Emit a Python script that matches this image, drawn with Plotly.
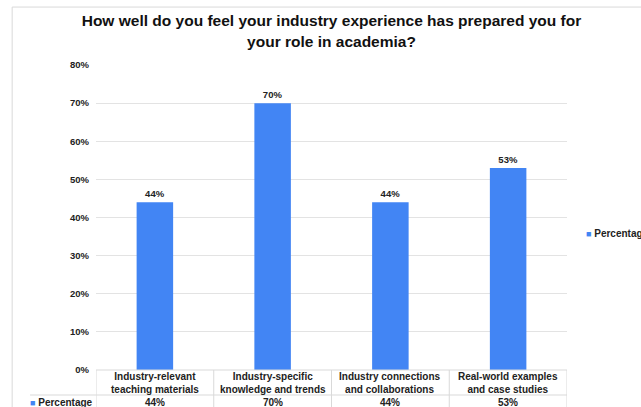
import plotly.graph_objects as go

categories = ["Industry-relevant<br>teaching materials",
              "Industry-specific<br>knowledge and trends",
              "Industry connections<br>and collaborations",
              "Real-world examples<br>and case studies"]
values = [0.44, 0.70, 0.44, 0.53]
value_labels = ["44%", "70%", "44%", "53%"]
series_name = "Percentage"
title_text = "How well do you feel your industry experience has prepared you for<br>your role in academia?"

BLUE = "#4285F4"
FONT = "Liberation Sans, Arial, sans-serif"
GRID = "#e3e3e3"
LINE = "#d9d9d9"

idx = list(range(len(categories)))

fig = go.Figure()
fig.add_trace(go.Bar(
    x=idx, y=values, name=series_name,
    marker=dict(color=BLUE, line=dict(width=0)),
    width=0.31,
    text=value_labels, textposition="outside",
    textfont=dict(family=FONT, size=9.5, color="#222222", weight="bold"),
    cliponaxis=False,
    showlegend=False,
))

shapes = []
# outer frame
shapes.append(dict(type="rect", xref="paper", yref="paper",
                   x0=-0.178, x1=2.0, y0=-1.0, y1=1.19,
                   line=dict(color=LINE, width=1), layer="below"))
# table horizontal lines
shapes.append(dict(type="line", xref="x", yref="paper",
                   x0=-0.5, x1=len(categories) - 0.5, y0=0, y1=0,
                   line=dict(color=LINE, width=1)))
shapes.append(dict(type="line", xref="paper", yref="paper",
                   x0=-0.14, x1=1.0, y0=-0.082, y1=-0.082,
                   line=dict(color=LINE, width=1)))
# table vertical lines
for i in range(len(categories) + 1):
    shapes.append(dict(type="line", xref="x", yref="paper",
                       x0=i - 0.5, x1=i - 0.5, y0=0, y1=-0.3,
                       line=dict(color=LINE, width=1)))

annotations = []
for i, (c, v) in enumerate(zip(categories, value_labels)):
    annotations.append(dict(x=i, y=-0.041, xref="x", yref="paper", text="<b>" + c + "</b>",
                            showarrow=False, xanchor="center", yanchor="middle",
                            font=dict(family=FONT, size=10, color="#222222")))
    annotations.append(dict(x=i, y=-0.105, xref="x", yref="paper", text="<b>" + v + "</b>",
                            showarrow=False, xanchor="center", yanchor="middle",
                            font=dict(family=FONT, size=10, color="#222222")))

legend_txt = ("<span style='font-size:9px;color:%s'>■</span> <b>%s</b>" % (BLUE, series_name))
annotations.append(dict(x=-0.002, y=-0.105, xref="paper", yref="paper", text=legend_txt,
                        showarrow=False, xanchor="right", yanchor="middle",
                        font=dict(family=FONT, size=10, color="#222222")))
annotations.append(dict(x=1.036, y=0.449, xref="paper", yref="paper", text=legend_txt,
                        showarrow=False, xanchor="left", yanchor="middle",
                        font=dict(family=FONT, size=10, color="#222222")))

fig.update_layout(
    width=641, height=407,
    margin=dict(l=96, r=74, t=65, b=37),
    paper_bgcolor="white", plot_bgcolor="white",
    title=dict(text="<b>" + title_text + "</b>", x=0.5, xref="paper", xanchor="center",
               y=0.935, yref="container", yanchor="middle",
               font=dict(family=FONT, size=15.5, color="#111111")),
    xaxis=dict(range=[-0.5, len(categories) - 0.5], showticklabels=False, showgrid=False,
               zeroline=False, showline=False, fixedrange=True),
    yaxis=dict(range=[0, 0.8], dtick=0.1, tickformat=".0%", showgrid=True, gridcolor=GRID,
               gridwidth=1, zeroline=False, showline=False, ticks="",
               ticklabelstandoff=6,
               tickfont=dict(family=FONT, size=9.5, color="#222222", weight="bold")),
    shapes=shapes,
    annotations=annotations,
    bargap=0.69,
)

fig.write_html("out.html")
